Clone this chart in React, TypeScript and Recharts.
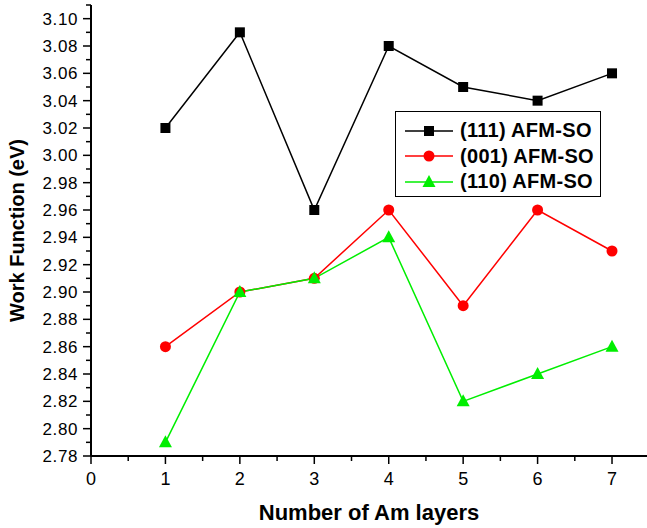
import React from 'react'
import { LineChart, Line, XAxis, YAxis } from 'recharts'

const layers = [1, 2, 3, 4, 5, 6, 7]
const wf111 = [3.02, 3.09, 2.96, 3.08, 3.05, 3.04, 3.06]
const wf001 = [2.86, 2.9, 2.91, 2.96, 2.89, 2.96, 2.93]
const wf110 = [2.79, 2.9, 2.91, 2.94, 2.82, 2.84, 2.86]

const xTicks = [0, 0.5, 1, 1.5, 2, 2.5, 3, 3.5, 4, 4.5, 5, 5.5, 6, 6.5, 7]
const yTicks = [
    2.78, 2.79, 2.8, 2.81, 2.82, 2.83, 2.84, 2.85, 2.86, 2.87, 2.88, 2.89, 2.9, 2.91, 2.92, 2.93, 2.94,
    2.95, 2.96, 2.97, 2.98, 2.99, 3.0, 3.01, 3.02, 3.03, 3.04, 3.05, 3.06, 3.07, 3.08, 3.09, 3.1, 3.11,
]

const series = [
    { key: 's111', name: '(111) AFM-SO', color: '#000000', shape: 'square' },
    { key: 's001', name: '(001) AFM-SO', color: '#ff0000', shape: 'circle' },
    { key: 's110', name: '(110) AFM-SO', color: '#00ee00', shape: 'triangle' },
]

const data = layers.map((l, i) => ({ layer: l, s111: wf111[i], s001: wf001[i], s110: wf110[i] }))

const FONT = '"Liberation Sans", Arial, sans-serif'

function Marker({ cx, cy, shape, color }: any) {
    if (cx == null || cy == null) return null
    if (shape === 'square') return <rect x={cx - 5} y={cy - 5} width={10} height={10} fill={color} />
    if (shape === 'circle') return <circle cx={cx} cy={cy} r={5.5} fill={color} />
    return <polygon points={`${cx},${cy - 7} ${cx - 6.5},${cy + 5} ${cx + 6.5},${cy + 5}`} fill={color} />
}

function XTick({ x, y, payload }: any) {
    const v = payload.value
    const major = Math.abs(v - Math.round(v)) < 1e-6
    return (
        <g>
            <line x1={x} x2={x} y1={y} y2={y + (major ? 8 : 5)} stroke="#000" strokeWidth={1.5} />
            {major && (
                <text x={x} y={y + 29} textAnchor="middle" fontSize={18} fontFamily={FONT} fill="#000">
                    {v}
                </text>
            )}
        </g>
    )
}

function YTick({ x, y, payload }: any) {
    const v = payload.value
    const major = Math.round(v * 100) % 2 === 0
    return (
        <g>
            <line x1={x - (major ? 8 : 5)} x2={x} y1={y} y2={y} stroke="#000" strokeWidth={1.5} />
            {major && v < 3.105 && (
                <text x={x - 13} y={y + 6} textAnchor="end" fontSize={17} letterSpacing={0.6} fontFamily={FONT} fill="#000">
                    {v.toFixed(2)}
                </text>
            )}
        </g>
    )
}

function LegendBox() {
    return (
        <div
            style={{
                position: 'absolute',
                left: 395,
                top: 111,
                border: '1.5px solid #000',
                width: 206,
                height: 86,
                background: '#fff',
                boxSizing: 'border-box',
                paddingTop: 6,
            }}
        >
            {series.map((s) => (
                <div key={s.key} style={{ display: 'flex', alignItems: 'center', height: 25.5 }}>
                    <svg width={64} height={20}>
                        <line x1={9} x2={57} y1={10} y2={10} stroke={s.color} strokeWidth={1.5} />
                        <Marker cx={33} cy={10} shape={s.shape} color={s.color} />
                    </svg>
                    <span style={{ fontFamily: FONT, fontWeight: 'bold', fontSize: 20, letterSpacing: 0.3, color: '#000' }}>{s.name}</span>
                </div>
            ))}
        </div>
    )
}

export default function App() {
    return (
        <div style={{ position: 'relative', width: 647, height: 528, background: '#fff' }}>
            <style>{'body{margin:0}'}</style>
            <LineChart width={647} height={528} data={data} margin={{ top: 5, right: 0, bottom: 0, left: 0 }}>
                <XAxis
                    dataKey="layer"
                    type="number"
                    domain={[0, 7.47]}
                    ticks={xTicks}
                    interval={0}
                    tick={<XTick />}
                    tickLine={false}
                    tickSize={0}
                    tickMargin={0}
                    axisLine={{ stroke: '#000', strokeWidth: 2 }}
                    height={72}
                    allowDataOverflow
                    label={{ value: 'Number of Am layers', position: 'insideBottom', offset: 8, style: { fontFamily: FONT, fontWeight: 'bold', fontSize: 22, fill: '#000' } }}
                />
                <YAxis
                    type="number"
                    domain={[2.78, 3.11]}
                    ticks={yTicks}
                    interval={0}
                    tick={<YTick />}
                    tickLine={false}
                    tickSize={0}
                    tickMargin={0}
                    axisLine={{ stroke: '#000', strokeWidth: 2 }}
                    width={91}
                    allowDataOverflow
                    label={{ value: 'Work Function (eV)', angle: -90, position: 'insideLeft', offset: 17, style: { textAnchor: 'middle', fontFamily: FONT, fontWeight: 'bold', fontSize: 20, fill: '#000' } }}
                />
                {series.map((s) => (
                    <Line
                        key={s.key}
                        dataKey={s.key}
                        name={s.name}
                        stroke={s.color}
                        strokeWidth={1.5}
                        isAnimationActive={false}
                        dot={(p: any) => <Marker key={`${s.key}-${p.index}`} cx={p.cx} cy={p.cy} shape={s.shape} color={s.color} />}
                        activeDot={false}
                    />
                ))}
            </LineChart>
            <LegendBox />
        </div>
    )
}
